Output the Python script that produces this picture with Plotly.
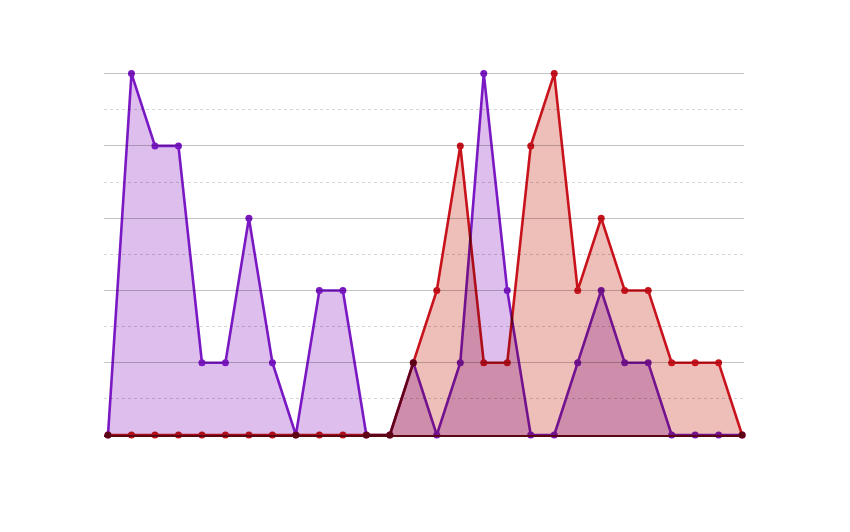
import plotly.graph_objects as go

# 28 evenly spaced categories, no visible tick labels
positions = list(range(28))

purple_values = [0, 10, 8, 8, 2, 2, 6, 2, 0, 4, 4, 0, 0, 2,
                 0, 2, 10, 4, 0, 0, 2, 4, 2, 2, 0, 0, 0, 0]
red_values = [0, 0, 0, 0, 0, 0, 0, 0, 0, 0, 0, 0, 0, 2,
              4, 8, 2, 2, 8, 10, 4, 6, 4, 4, 2, 2, 2, 0]

PURPLE_LINE = "#7a18c4"
PURPLE_FILL = "#ddbeec"
RED_LINE = "#c8121c"
RED_FILL = "#eebeb9"

fig = go.Figure()

fig.add_trace(
    go.Scatter(
        x=positions,
        y=purple_values,
        mode="lines+markers",
        fill="tozeroy",
        fillcolor=PURPLE_FILL,
        line=dict(color=PURPLE_LINE, width=2.6),
        marker=dict(color=PURPLE_LINE, size=7),
        cliponaxis=False,
        showlegend=False,
    )
)

fig.add_trace(
    go.Scatter(
        x=positions,
        y=red_values,
        mode="lines+markers",
        fill="tozeroy",
        fillcolor=RED_FILL,
        line=dict(color=RED_LINE, width=2.6),
        marker=dict(color=RED_LINE, size=7),
        cliponaxis=False,
        showlegend=False,
    )
)

fig.update_layout(
    width=850,
    height=532,
    margin=dict(l=96, r=114, t=62, b=105),
    paper_bgcolor="white",
    plot_bgcolor="white",
    font=dict(family="Open Sans", size=12),
)

fig.update_xaxes(
    range=[-0.17, 27.08],
    showgrid=False,
    zeroline=False,
    showticklabels=False,
    ticks="",
    showline=True,
    linecolor="#5a0814",
    linewidth=2,
    layer="above traces",
)

fig.update_yaxes(
    range=[0, 10.1],
    tickvals=[0, 2, 4, 6, 8, 10],
    showgrid=True,
    gridcolor="#c4c4c4",
    gridwidth=1,
    minor=dict(tickvals=[1, 3, 5, 7, 9], showgrid=True, gridcolor="#d4d4d4",
               griddash="dot", gridwidth=1),
    zeroline=False,
    showticklabels=False,
    ticks="",
)

# overlapping areas darken each other like a multiply blend
blend_js = """
var gd = document.getElementById('{plot_id}');
gd.querySelectorAll('.scatterlayer .trace').forEach(function(g){
    g.style.mixBlendMode = 'multiply';
});
"""

fig.write_html("out.html", post_script=blend_js)
